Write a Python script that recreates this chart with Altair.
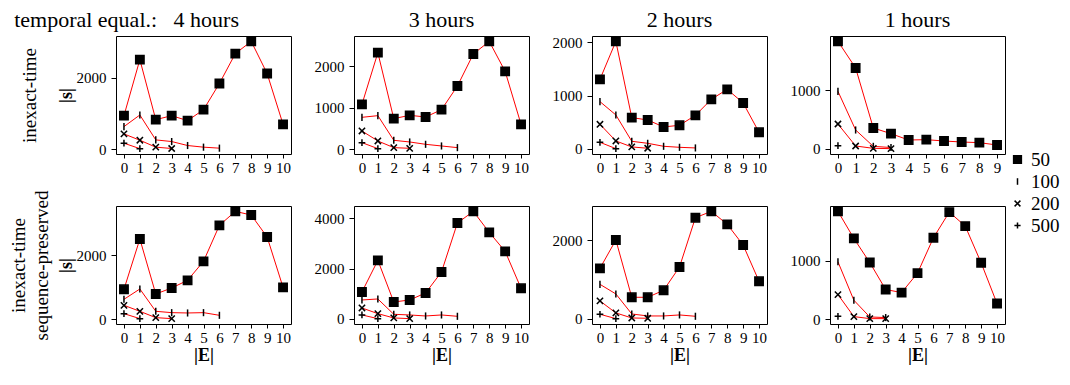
import altair as alt
import pandas as pd

FONT = "Liberation Serif"

series_names = ["50", "100", "200", "500"]
row_labels = [["inexact-time"], ["inexact-time", "sequence-preserved"]]
row_label_offsets = [74, 62]
col_titles = ["4 hours", "3 hours", "2 hours", "1 hours"]
corner_label = "temporal equal.:"
y_title = "|s|"
x_title = "|E|"
y_ticks = [
    [[0, 2000], [0, 1000, 2000], [0, 1000, 2000], [0, 1000]],
    [[0, 2000], [0, 2000, 4000], [0, 2000], [0, 1000]],
]

# row 1: inexact-time
r1c1_50 = [935, 2500, 824, 935, 796, 1102, 1833, 2667, 3009, 2111, 694]
r1c1_100 = [630, 954, 259, 213, 102, 56, 28]
r1c1_200 = [426, 250, 56, 19]
r1c1_500 = [167, 15]

r1c2_50 = [1080, 2320, 736, 816, 776, 952, 1520, 2288, 2592, 1872, 600]
r1c2_100 = [768, 808, 216, 176, 120, 80, 40]
r1c2_200 = [440, 200, 40, 24]
r1c2_500 = [160, 16]

r1c3_50 = [1306, 2019, 588, 544, 413, 444, 631, 931, 1119, 863, 313]
r1c3_100 = [888, 638, 144, 106, 50, 31, 19]
r1c3_200 = [463, 150, 38, 13]
r1c3_500 = [125, 6]

r1c4_50 = [1835, 1381, 358, 261, 153, 159, 136, 119, 108, 68]
r1c4_100 = [983, 324, 45, 25]
r1c4_200 = [426, 51, 11, 6]
r1c4_500 = [57]

# row 2: inexact-time sequence-preserved
r2c1_50 = [938, 2510, 792, 979, 1219, 1813, 2938, 3375, 3260, 2573, 1000]
r2c1_100 = [625, 948, 250, 208, 198, 208, 125]
r2c1_200 = [438, 250, 52, 21]
r2c1_500 = [177, 21]

r2c2_50 = [1073, 2331, 675, 755, 1033, 1868, 3815, 4278, 3444, 2689, 1219]
r2c2_100 = [755, 795, 185, 159, 119, 159, 106]
r2c2_200 = [437, 212, 40, 13]
r2c2_500 = [159, 13]

r2c3_50 = [1288, 2008, 551, 551, 729, 1322, 2576, 2737, 2407, 1881, 958]
r2c3_100 = [881, 636, 127, 76, 76, 102, 68]
r2c3_200 = [458, 153, 25, 17]
r2c3_500 = [119, 8]

r2c4_50 = [1846, 1383, 971, 509, 457, 789, 1394, 1834, 1594, 966, 269]
r2c4_100 = [983, 326, 40, 29]
r2c4_200 = [423, 46, 11, 11]
r2c4_500 = [51]

panels = [
    [[r1c1_50, r1c1_100, r1c1_200, r1c1_500],
     [r1c2_50, r1c2_100, r1c2_200, r1c2_500],
     [r1c3_50, r1c3_100, r1c3_200, r1c3_500],
     [r1c4_50, r1c4_100, r1c4_200, r1c4_500]],
    [[r2c1_50, r2c1_100, r2c1_200, r2c1_500],
     [r2c2_50, r2c2_100, r2c2_200, r2c2_500],
     [r2c3_50, r2c3_100, r2c3_200, r2c3_500],
     [r2c4_50, r2c4_100, r2c4_200, r2c4_500]],
]

shape_paths = [
    "square",
    "M0,-0.85L0,0.85",
    "M-0.75,-0.75L0.75,0.75M-0.75,0.75L0.75,-0.75",
    "M-0.8,0L0.8,0M0,-0.8L0,0.8",
]
fill_colors = ["black", "transparent", "transparent", "transparent"]
stroke_colors = ["black", "black", "black", "black"]

legend = alt.Legend(
    title=None,
    orient="none",
    legendX=892,
    legendY=114,
    labelFont=FONT,
    labelFontSize=19,
    labelColor="black",
    symbolSize=60,
    symbolStrokeWidth=1.5,
    rowPadding=2,
    labelOffset=4,
)

PW, PH = 175, 118
TITLE_SIZE = 22


def make_panel(r, c):
    vals = panels[r][c]
    recs = []
    for name, v in zip(series_names, vals):
        for i, s in enumerate(v):
            recs.append({"E": i, "s": s, "series": name})
    df = pd.DataFrame(recs)
    smax = max(max(v) for v in vals)
    smin = min(min(v) for v in vals)
    rng = smax - smin
    ydom = [smin - 0.05 * rng, smax + 0.05 * rng]
    xmax = max(len(v) for v in vals) - 1
    xdom = [-0.05 * xmax, 1.05 * xmax]

    xaxis = dict(values=list(range(xmax + 1)), format="d", labelOverlap=False,
                 title=(x_title if r == 1 else None))
    yaxis = dict(values=y_ticks[r][c], format="d",
                 title=(y_title if c == 0 else None))

    x = alt.X("E:Q", scale=alt.Scale(domain=xdom, nice=False, zero=False),
              axis=alt.Axis(**xaxis))
    y_main = alt.Y("s:Q", scale=alt.Scale(domain=ydom, nice=False, zero=False),
                   axis=alt.Axis(**yaxis))
    if c == 0:
        y_pts = alt.Y("s:Q", scale=alt.Scale(domain=ydom, nice=False, zero=False),
                      axis=alt.Axis(orient="left", labels=False, ticks=False, domain=False,
                                    title=row_labels[r], titleFontWeight="normal",
                                    titleFontSize=19, titleLineHeight=23,
                                    offset=row_label_offsets[r], titlePadding=3))
    else:
        y_pts = y_main

    base = alt.Chart(df)
    lines = base.mark_line(color="#ff0000", strokeWidth=1).encode(
        x=x, y=y_main, detail="series:N")
    pts = base.mark_point(size=70, strokeWidth=1.5, opacity=1).encode(
        x=x, y=y_pts,
        shape=alt.Shape("series:N", scale=alt.Scale(domain=series_names, range=shape_paths),
                        legend=legend),
        fill=alt.Fill("series:N", scale=alt.Scale(domain=series_names, range=fill_colors),
                      legend=legend),
        stroke=alt.Stroke("series:N", scale=alt.Scale(domain=series_names, range=stroke_colors),
                          legend=legend),
    )
    ch = alt.layer(lines, pts).properties(width=PW, height=PH)
    if c == 0:
        ch = ch.resolve_scale(y="independent")
    if r == 0:
        if c == 0:
            ttl = alt.TitleParams(corner_label + "\u00a0" * 3 + col_titles[c],
                                  anchor="end", frame="group", dx=-52,
                                  fontSize=TITLE_SIZE, offset=2)
        else:
            ttl = alt.TitleParams(col_titles[c], anchor="middle", frame="group",
                                  fontSize=TITLE_SIZE, offset=2)
        ch = ch.properties(title=ttl)
    return ch


rows = []
for r in range(2):
    rows.append(alt.hconcat(*[make_panel(r, c) for c in range(4)], spacing=21))

chart = alt.vconcat(*rows, spacing=13).properties(
    padding={"left": 0, "top": 0, "right": 0, "bottom": 2}
).configure(font=FONT).configure_view(
    stroke="black", strokeWidth=1
).configure_axis(
    labelFont=FONT, labelFontSize=15, labelColor="black",
    titleFont=FONT, titleFontSize=18, titleFontWeight="bold", titleColor="black",
    tickColor="black", grid=False, domain=False,
).configure_axisY(titlePadding=1, tickSize=5, labelPadding=5).configure_axisX(
    titlePadding=1, tickSize=4, labelPadding=2
).configure_title(
    font=FONT, fontWeight="normal", color="black"
)

chart.save("out.html", embed_options={"renderer": "svg", "actions": False})
